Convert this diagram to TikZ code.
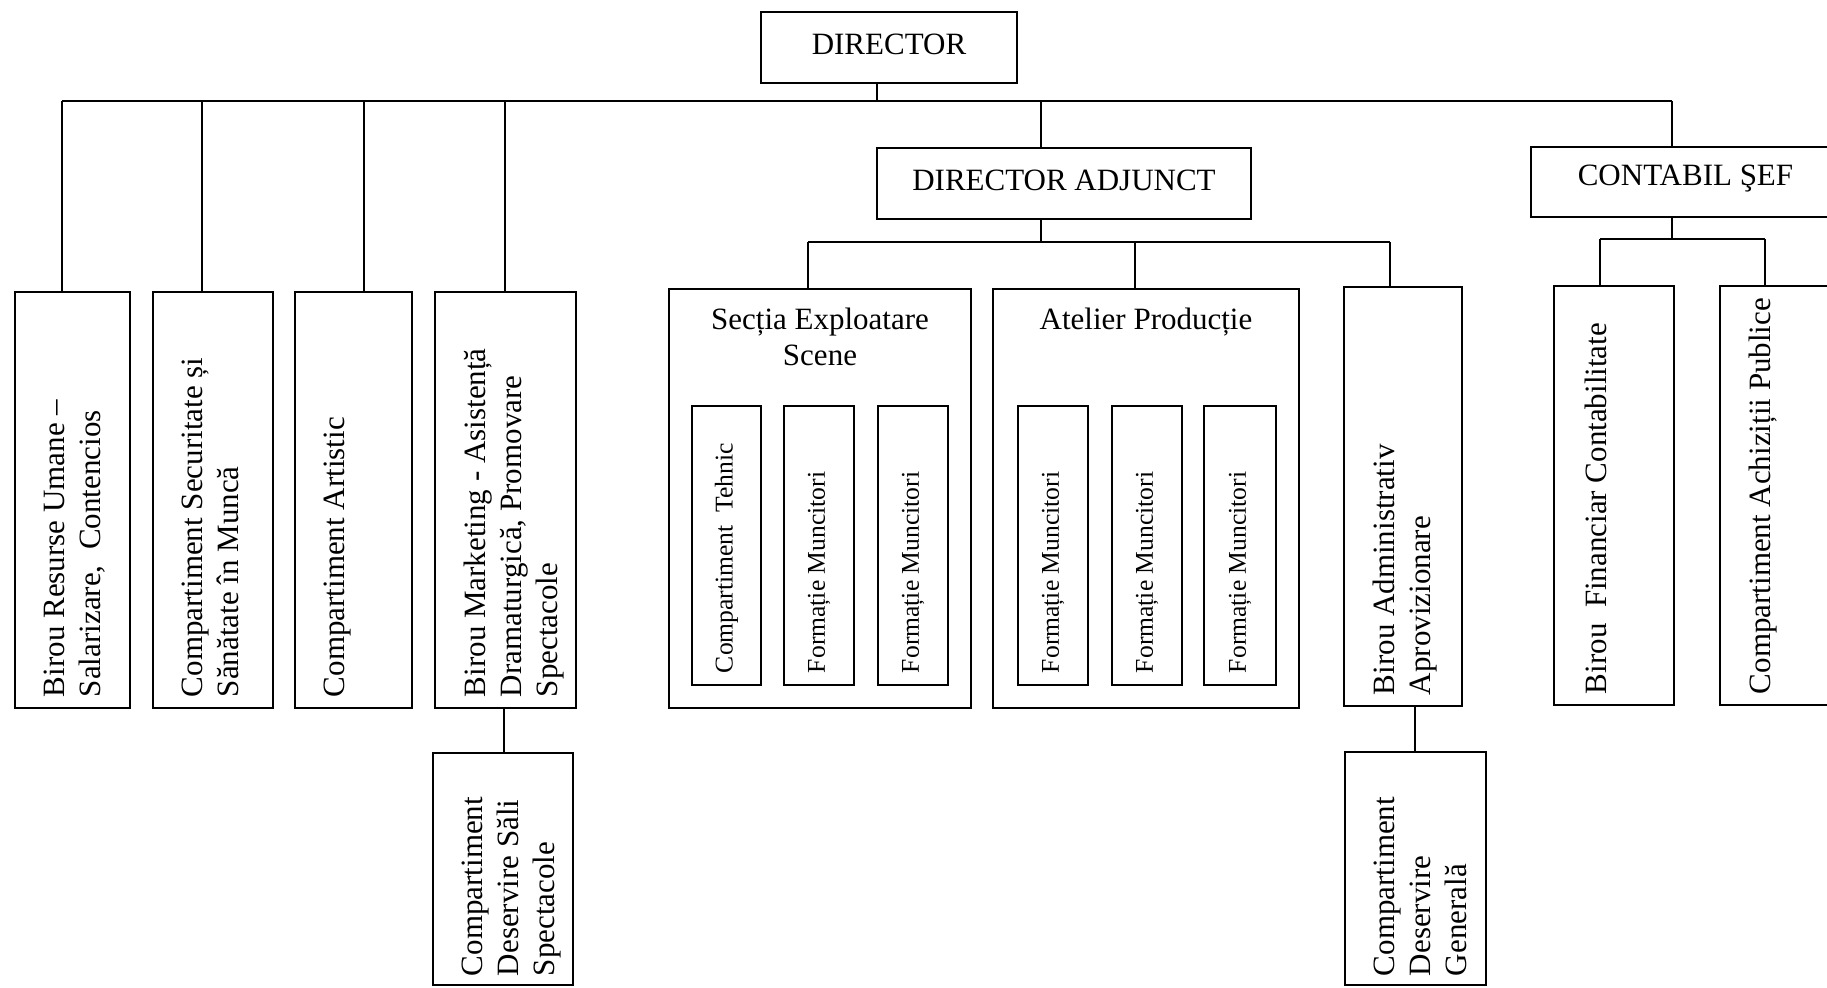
\documentclass[tikz,border=0pt]{standalone}
\usepackage{fontspec}
\setmainfont{Liberation Serif}
\usetikzlibrary{fit}

\begin{document}
\begin{tikzpicture}[x=0.5pt,y=-0.5pt,line width=0.7pt,
	box/.style={draw,inner sep=0pt},
	big/.style={font=\fontsize{15.5}{18}\selectfont},
	vtext/.style={big,rotate=90,anchor=north west,align=left,inner sep=0pt},
	stext/.style={font=\fontsize{12.8}{15}\selectfont,rotate=90,anchor=west,inner sep=0pt}]
	\useasboundingbox (0,0) rectangle (1827,987);

	% conducere
	\node[box,fit={(761,12) (1017,83)},label={[big,yshift=1.5pt]center:DIRECTOR}] (dir) {};
	\node[box,fit={(877,148) (1251,219)},label={[big,yshift=1.5pt]center:DIRECTOR ADJUNCT}] (da) {};
	\node[box,fit={(1531,147) (1840,217)},label={[big,yshift=1.5pt]center:CONTABIL ŞEF}] (cs) {};

	% birouri si compartimente
	\node[box,fit={(15,292) (130,708)}] (hr) {};
	\node[vtext] at ([shift={(29,-11)}]hr.south west) {Birou Resurse Umane --\\Salarizare,~ Contencios};
	\node[box,fit={(153,292) (273,708)}] (ssm) {};
	\node[vtext] at ([shift={(29,-11)}]ssm.south west) {Compartiment Securitate și\\Sănătate în Muncă};
	\node[box,fit={(295,292) (412,708)}] (art) {};
	\node[vtext] at ([shift={(29,-11)}]art.south west) {Compartiment Artistic};
	\node[box,fit={(435,292) (576,708)}] (mkt) {};
	\node[vtext] at ([shift={(29,-11)}]mkt.south west) {Birou Marketing - Asistență\\Dramaturgică, Promovare\\Spectacole};
	\node[box,fit={(433,753) (573,985)}] (cdss) {};
	\node[vtext] at ([shift={(29,-9)}]cdss.south west) {Compartiment\\Deservire Săli\\Spectacole};

	\node[box,fit={(669,289) (971,708)}] (sectia) {};
	\node[big,anchor=north,align=center,inner sep=0pt] at ([shift={(0,19)}]sectia.north) {Secția Exploatare\\Scene};
	\node[box,fit={(993,289) (1299,708)}] (atelier) {};
	\node[big,anchor=north,align=center,inner sep=0pt] at ([shift={(0,19)}]atelier.north) {Atelier Producție};
	\foreach \n/\xa/\xb/\t in {s1/692/761/{Compartiment~ Tehnic},s2/784/854/{Formație Muncitori},s3/878/948/{Formație Muncitori},
		a1/1018/1088/{Formație Muncitori},a2/1112/1182/{Formație Muncitori},a3/1204/1276/{Formație Muncitori}}{
		\node[box,fit={(\xa,406) (\xb,685)}] (\n) {};
		\node[stext] at ([shift={(0,-12)}]\n.south) {\t};
	}

	\node[box,fit={(1344,287) (1462,706)}] (ba) {};
	\node[vtext] at ([shift={(29,-11)}]ba.south west) {Birou Administrativ\\Aprovizionare};
	\node[box,fit={(1345,752) (1486,985)}] (cdg) {};
	\node[vtext] at ([shift={(29,-9)}]cdg.south west) {Compartiment\\Deservire\\Generală};

	\node[box,fit={(1554,286) (1674,705)}] (bf) {};
	\node[vtext] at ([shift={(31,-11)}]bf.south west) {Birou~ Financiar Contabilitate};
	\node[box,fit={(1720,286) (1840,705)}] (ca) {};
	\node[vtext] at ([shift={(29,-11)}]ca.south west) {Compartiment Achiziții Publice};

	% legaturi
	\coordinate (bus) at (877,101);
	\draw (dir.south -| bus) -- (bus);
	\draw (bus -| 62,0) -- (bus -| 1672,0);
	\foreach \n/\x in {hr/62,ssm/202,art/364,mkt/505,da/1041,cs/1672}
		\draw (\n.north -| \x,0) -- (bus -| \x,0);

	\coordinate (dabus) at (1041,242);
	\draw (da.south -| dabus) -- (dabus);
	\draw (dabus -| 808,0) -- (dabus -| 1390,0);
	\foreach \n/\x in {sectia/808,atelier/1135,ba/1390}
		\draw (\n.north -| \x,0) -- (dabus -| \x,0);

	\coordinate (csbus) at (1672,239);
	\draw (cs.south -| csbus) -- (csbus);
	\draw (csbus -| 1600,0) -- (csbus -| 1765,0);
	\foreach \n/\x in {bf/1600,ca/1765}
		\draw (\n.north -| \x,0) -- (csbus -| \x,0);

	\draw (mkt.south -| 504,0) -- (cdss.north -| 504,0);
	\draw (ba.south -| 1415,0) -- (cdg.north -| 1415,0);
\end{tikzpicture}
\end{document}
